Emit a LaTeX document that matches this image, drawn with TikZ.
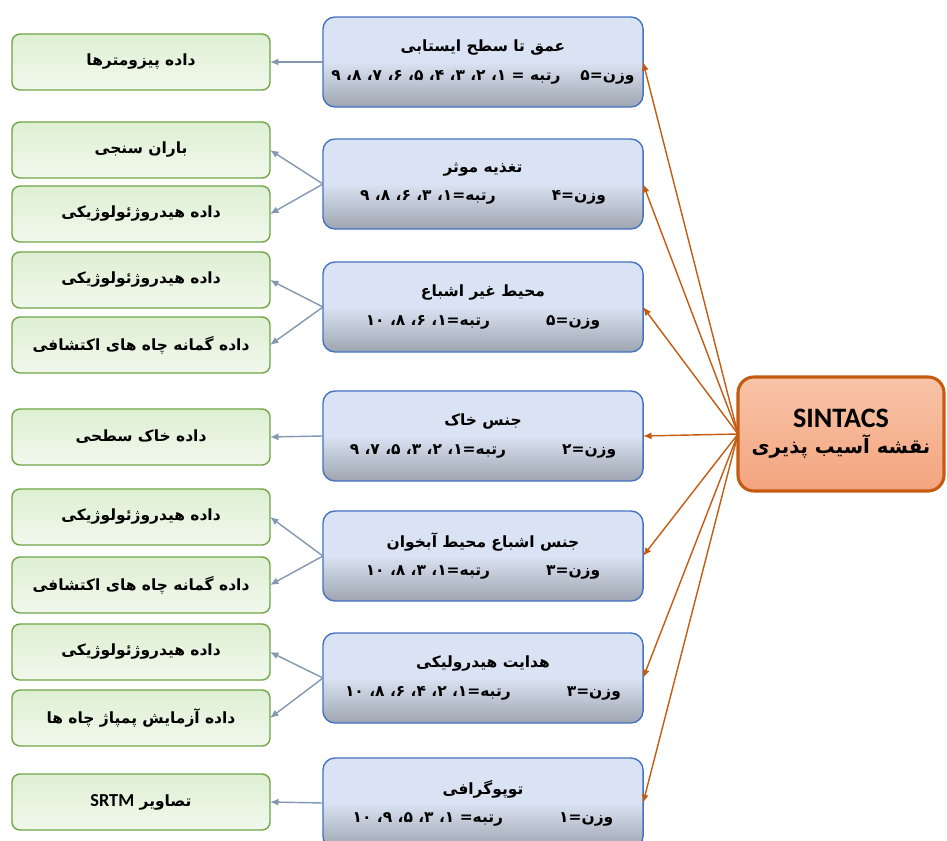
\documentclass[tikz,border=0pt]{standalone}
\usepackage{fontspec}
\usepackage{tikz}
\usetikzlibrary{arrows.meta}
\newfontfamily\fa[Script=Arabic]{DejaVu Sans}
\newfontfamily\lat{Carlito}
\TeXXeTstate=1
\newcommand{\rl}{^^^^200f}
\definecolor{midline}{HTML}{4472C4}
\definecolor{midtop}{HTML}{DAE3F3}
\definecolor{midbot}{HTML}{9EA5B0}
\definecolor{leftline}{HTML}{6FA447}
\definecolor{lefttop}{HTML}{DEEFD3}
\definecolor{leftbot}{HTML}{F1F8EC}
\definecolor{resline}{HTML}{C55A11}
\definecolor{restop}{HTML}{F8C4A8}
\definecolor{resbot}{HTML}{F3A47F}
\definecolor{arrorange}{HTML}{C55A11}
\definecolor{arrgray}{HTML}{8497B0}

\begin{document}
\begin{tikzpicture}[x=0.025cm, y=-0.025cm, every node/.style={outer sep=0pt},
    midbox/.style={draw=midline, line width=1pt, rounded corners=0.3cm, top color=midtop, bottom color=midbot, middle color=midtop,
      minimum width=8cm, minimum height=2.25cm, align=center, font=\fa\bfseries\fontsize{11}{13}\selectfont},
    leftbox/.style={draw=leftline, line width=1pt, rounded corners=0.2cm, top color=lefttop, bottom color=leftbot,
      minimum width=6.45cm, minimum height=1.4cm, font=\fa\bfseries\fontsize{11}{13}\selectfont},
    resbox/.style={draw=resline, line width=2.2pt, rounded corners=0.4cm, top color=restop, bottom color=resbot,
      minimum width=5.15cm, minimum height=2.85cm, align=center},
    orangearrow/.style={draw=arrorange, line width=1pt, -{Latex[length=6pt,width=5pt]}},
    grayarrow/.style={draw=arrgray, line width=1pt, -{Latex[length=6pt,width=5pt]}}]
    \useasboundingbox (0,0) rectangle (947,841);
    \clip (0,0) rectangle (947,841);
    % middle column: the seven SINTACS layers
    \node (m1) [midbox] at (483,62) {\beginR عمق تا سطح ایستابی\endR\\[7pt]\beginR وزن=۵\hspace{0.5cm}رتبه = \rl ۱، \rl ۲، \rl ۳، \rl ۴، \rl ۵، \rl ۶، \rl ۷، \rl ۸، ۹\endR};
    \node (m2) [midbox] at (483,184) {\beginR تغذیه موثر\endR\\[7pt]\beginR وزن=۴\hspace{1.4cm}رتبه=۱، \rl ۳، \rl ۶، \rl ۸، ۹\endR};
    \node (m3) [midbox] at (483,307) {\beginR محیط غیر اشباع\endR\\[7pt]\beginR وزن=۵\hspace{1.4cm}رتبه=۱، \rl ۶، \rl ۸، ۱۰\endR};
    \node (m4) [midbox] at (483,436) {\beginR جنس خاک\endR\\[7pt]\beginR وزن=۲\hspace{1.4cm}رتبه=۱، \rl ۲، \rl ۳، \rl ۵، \rl ۷، ۹\endR};
    \node (m5) [midbox] at (483,556) {\beginR جنس اشباع محیط آبخوان\endR\\[7pt]\beginR وزن=۳\hspace{1.4cm}رتبه=۱، \rl ۳، \rl ۸، ۱۰\endR};
    \node (m6) [midbox] at (483,678) {\beginR هدایت هیدرولیکی\endR\\[7pt]\beginR وزن=۳\hspace{1.4cm}رتبه=۱، \rl ۲، \rl ۴، \rl ۶، \rl ۸، ۱۰\endR};
    \node (m7) [midbox] at (483,803) {\beginR توپوگرافی\endR\\[7pt]\beginR وزن=۱\hspace{1.4cm}رتبه= \rl ۱، \rl ۳، \rl ۵، \rl ۹، ۱۰\endR};
    % left column: data sources
    \node (l1) [leftbox] at (141,62) {\beginR داده پیزومترها\endR};
    \node (l2) [leftbox] at (141,150) {\beginR باران سنجی\endR};
    \node (l3) [leftbox] at (141,214) {\beginR داده هیدروژئولوژیکی\endR};
    \node (l4) [leftbox] at (141,280) {\beginR داده هیدروژئولوژیکی\endR};
    \node (l5) [leftbox] at (141,345) {\beginR داده گمانه چاه های اکتشافی\endR};
    \node (l6) [leftbox] at (141,437) {\beginR داده خاک سطحی\endR};
    \node (l7) [leftbox] at (141,517) {\beginR داده هیدروژئولوژیکی\endR};
    \node (l8) [leftbox] at (141,585) {\beginR داده گمانه چاه های اکتشافی\endR};
    \node (l9) [leftbox] at (141,652) {\beginR داده هیدروژئولوژیکی\endR};
    \node (l10) [leftbox] at (141,718) {\beginR داده آزمایش پمپاژ چاه ها\endR};
    \node (l11) [leftbox] at (141,802) {\beginR تصاویر {\lat\bfseries\fontsize{13}{15}\selectfont SRTM}\endR};
    % result
    \node (sintacs) [resbox] at (841,434) {{\lat\bfseries\fontsize{20}{22}\selectfont SINTACS}\\[4pt]{\fa\bfseries\fontsize{14}{17}\selectfont\beginR نقشه آسیب پذیری\endR}};
    \foreach \i in {1,...,7}
      \draw [orangearrow] (sintacs.west) -- (m\i.east);
    \foreach \m/\l in {1/1,2/2,2/3,3/4,3/5,4/6,5/7,5/8,6/9,6/10,7/11}
      \draw [grayarrow] (m\m.west) -- (l\l.east);
\end{tikzpicture}
\end{document}
